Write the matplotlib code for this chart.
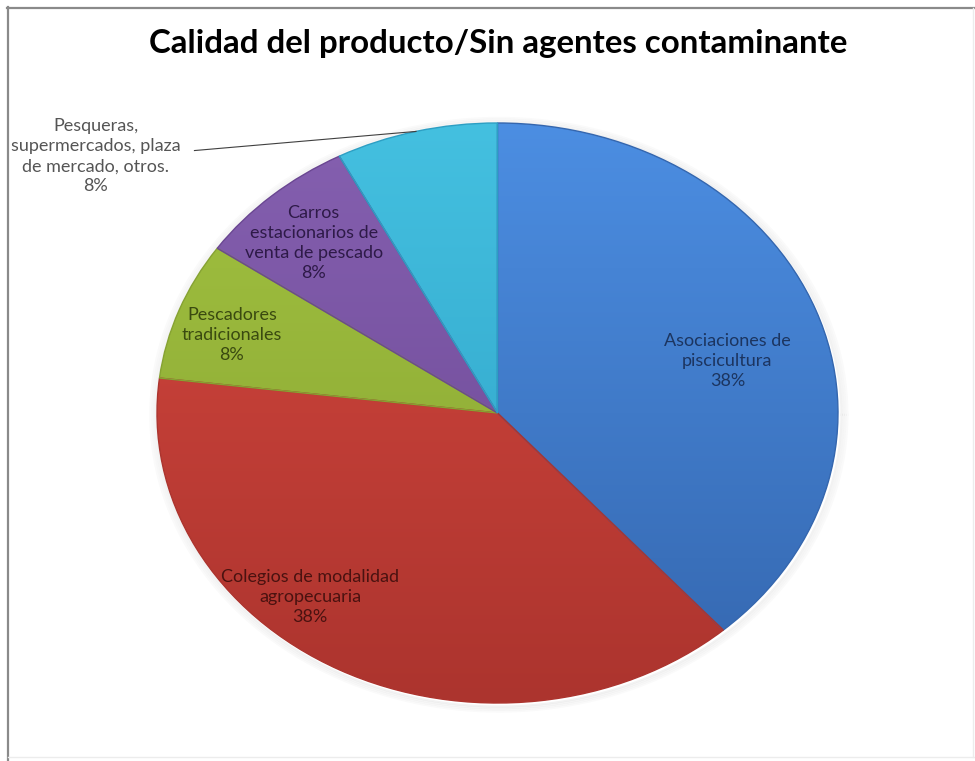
import numpy as np
import matplotlib
matplotlib.use("Agg")
import matplotlib.pyplot as plt
from matplotlib.colors import LinearSegmentedColormap
from matplotlib.lines import Line2D

# categories and counts
categorias = [
    "Asociaciones de\npiscicultura",
    "Colegios de modalidad\nagropecuaria",
    "Pescadores\ntradicionales",
    "Carros\nestacionarios de\nventa de pescado",
    "Pesqueras,\nsupermercados, plaza\nde mercado, otros.",
]
valores = [5, 5, 1, 1, 1]

# light (top) / dark (bottom) fill of each slice, and its label colour
claros = ["#4c8ee2", "#d6483f", "#a2c240", "#8560b0", "#44c0e0"]
oscuros = ["#3466ae", "#ac342e", "#86a232", "#6a4692", "#2c9fc4"]
texto = ["#1c3560", "#4a1210", "#3a4a10", "#2e1a48", "#555555"]

# label centres in pie units (x right, y up)
pos_labels = [(0.675, 0.18), (-0.55, -0.635), (-0.78, 0.27), (-0.54, 0.585), (-1.18, 0.885)]

fig = plt.figure(figsize=(9.75, 7.61), dpi=100)

# chart frame
W, H = 975, 761
def fx(px):
    return px / W
def fy(py):
    return 1 - py / H
fig.add_artist(Line2D([fx(7), fx(974)], [fy(7.5), fy(7.5)], color="#8a8a8a", lw=1.6))
fig.add_artist(Line2D([fx(7.5), fx(7.5)], [fy(7), fy(760)], color="#8a8a8a", lw=1.6))
fig.add_artist(Line2D([fx(8), fx(974)], [fy(757), fy(757)], color="#ececec", lw=1.0))
fig.add_artist(Line2D([fx(972.5), fx(972.5)], [fy(8), fy(757)], color="#ececec", lw=1.0))

fig.text(fx(498), fy(43), "Calidad del producto/Sin agentes contaminante",
         ha="center", va="center", fontsize=23.8, fontweight="bold",
         family="Lato", color="#000000")

# pie axes stretched to an ellipse
ax = fig.add_axes([fx(157), fy(703), (838 - 157) / W, (703 - 123) / H])
wedges, _ = ax.pie(valores, startangle=90, counterclock=False,
                   wedgeprops=dict(linewidth=0))
ax.set_aspect("auto")
ax.set_xlim(-1, 1)
ax.set_ylim(-1, 1)
ax.axis("off")

# soft shadow under the ellipse
t = np.linspace(0, 2 * np.pi, 400)
for k, a in enumerate([0.05, 0.04, 0.03, 0.02]):
    r = 1.0 + 0.006 * (k + 1)
    ax.plot(r * np.cos(t) + 0.004, r * np.sin(t) - 0.006, color="#000000",
            alpha=a, lw=1.5, clip_on=False, zorder=0)

grad = np.linspace(0, 1, 256).reshape(-1, 1)
for w, c1, c2 in zip(wedges, claros, oscuros):
    cmap = LinearSegmentedColormap.from_list("g", [c1, c2])
    im = ax.imshow(grad, cmap=cmap, extent=[-1, 1, -1, 1], origin="upper",
                   aspect="auto", zorder=1)
    im.set_clip_path(w)
    w.set_facecolor("none")
    w.set_edgecolor(c2)
    w.set_linewidth(1.0)
    w.set_zorder(2)

total = sum(valores)
for i, (cat, v) in enumerate(zip(categorias, valores)):
    txt = "%s\n%d%%" % (cat, round(100.0 * v / total))
    x, y = pos_labels[i]
    ax.text(x, y, txt, ha="center", va="center", fontsize=13, family="Lato",
            color=texto[i], linespacing=1.3, zorder=5, clip_on=False)

# leader line for the outside label
ang = np.deg2rad(90 + 0.5 * 360.0 * valores[4] / total)
ax.plot([-0.89, np.cos(ang)], [0.905, np.sin(ang)], color="#404040", lw=0.8,
        clip_on=False, zorder=5)

fig.savefig("out.png", dpi=100, facecolor="white")
